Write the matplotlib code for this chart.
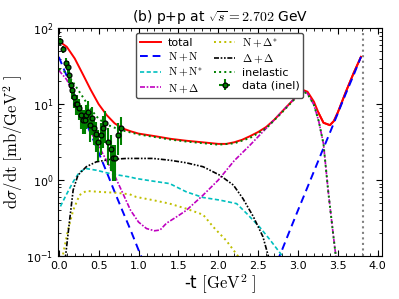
import numpy as np
import matplotlib
matplotlib.use('Agg')
import matplotlib.pyplot as plt

# curves, t in GeV^2, dsigma/dt in mb/GeV^2
t_total = [0.0, 0.1, 0.2, 0.3, 0.4, 0.5, 0.6, 0.7, 0.8, 0.9, 1.0, 1.2, 1.4, 1.6, 1.8, 2.0, 2.1, 2.2,
           2.3, 2.4, 2.5, 2.6, 2.7, 2.8, 2.9, 3.0, 3.07, 3.12, 3.2, 3.26, 3.32, 3.4, 3.45, 3.5, 3.6, 3.7, 3.79]
total = [68, 57, 40, 25, 15.5, 10, 7.2, 5.6, 4.8, 4.4, 4.1, 3.8, 3.5, 3.3, 3.15, 3.0, 3.0, 3.15,
         3.4, 3.8, 4.3, 5.0, 6.2, 8.0, 10.3, 13.3, 15.3, 14.6, 10.8, 7.6, 5.7, 5.3, 6.0, 7.8, 14.5, 26, 42]

t_nn1 = [0.0, 0.1, 0.2, 0.3, 0.4, 0.5, 0.6, 0.7, 0.8, 0.9, 1.0, 1.06]
nn1 = [42, 23.5, 13.0, 7.2, 4.1, 2.3, 1.28, 0.70, 0.39, 0.22, 0.12, 0.085]
t_nn2 = [2.74, 2.8, 2.9, 3.0, 3.1, 3.2, 3.3, 3.4, 3.5, 3.6, 3.7, 3.79]
nn2 = [0.085, 0.12, 0.22, 0.40, 0.72, 1.30, 2.35, 4.2, 7.6, 13.8, 24.5, 42]

t_nns = [0.02, 0.09, 0.18, 0.26, 0.34, 0.47, 0.64, 0.76, 0.89, 0.97, 1.18, 1.39, 1.6, 1.81,
         2.02, 2.23, 2.36, 2.52, 2.65, 2.76, 2.84]
nns = [0.45, 0.63, 0.95, 1.28, 1.42, 1.35, 1.22, 1.16, 1.1, 1.05, 0.97, 0.90, 0.70, 0.59,
       0.545, 0.49, 0.36, 0.24, 0.163, 0.115, 0.09]

t_nd = [0.0, 0.1, 0.2, 0.3, 0.4, 0.5, 0.6, 0.7, 0.8, 0.9, 1.0, 1.1, 1.2, 1.27, 1.35, 1.5, 1.6,
        1.8, 2.0, 2.2, 2.4, 2.6, 2.8, 2.9, 3.0, 3.07, 3.12, 3.2, 3.26, 3.32, 3.38, 3.44, 3.48]
nd = [28, 21, 12.5, 7.0, 4.3, 2.8, 1.8, 1.15, 0.68, 0.40, 0.28, 0.23, 0.215, 0.22, 0.27, 0.34, 0.40,
      0.62, 1.0, 1.8, 2.9, 4.8, 8.0, 10.3, 13.3, 14.8, 13.8, 9.8, 6.0, 3.0, 0.7, 0.2, 0.09]

t_nds = [0.04, 0.115, 0.18, 0.26, 0.345, 0.51, 0.72, 0.89, 0.97, 1.18, 1.39, 1.6, 1.81, 1.94, 2.1, 2.28]
nds = [0.09, 0.22, 0.40, 0.635, 0.72, 0.70, 0.68, 0.65, 0.60, 0.545, 0.49, 0.42, 0.35, 0.24, 0.16, 0.09]

t_dd = [0.08, 0.136, 0.18, 0.24, 0.345, 0.47, 0.64, 0.85, 1.18, 1.39, 1.6, 1.81, 2.02, 2.19, 2.31,
        2.44, 2.56, 2.64]
dd = [0.09, 0.30, 0.74, 1.16, 1.5, 1.74, 1.87, 1.93, 1.93, 1.83, 1.69, 1.5, 1.16, 0.86, 0.57,
      0.33, 0.18, 0.09]

t_inel = [0.0, 0.1, 0.2, 0.3, 0.4, 0.5, 0.6, 0.7, 0.8, 0.9, 1.0, 1.2, 1.4, 1.6, 1.8, 2.0, 2.2,
          2.4, 2.6, 2.8, 2.9, 3.0, 3.07, 3.12, 3.2, 3.26, 3.32, 3.38, 3.44, 3.48]
inel = [29, 26, 18, 12.5, 8.6, 6.4, 5.4, 4.9, 4.5, 4.25, 4.0, 3.7, 3.42, 3.22, 3.07, 2.93, 3.05,
        3.6, 4.8, 7.8, 10.1, 13.0, 14.6, 13.7, 9.8, 6.0, 3.0, 0.7, 0.2, 0.09]

# data (inel)
t_data = [0.02, 0.05, 0.085, 0.11, 0.13, 0.15, 0.17, 0.19, 0.21, 0.23, 0.25, 0.275, 0.30, 0.325,
          0.345, 0.37, 0.395, 0.42, 0.445, 0.47, 0.49, 0.525, 0.555, 0.585, 0.615, 0.65, 0.68,
          0.71, 0.74, 0.775]
y_data = [68, 53, 35, 31, 24, 17.8, 15.6, 12.5, 10.2, 10.2, 9.0, 7.3, 6.2, 6.2, 7.2, 7.9, 5.3,
          6.5, 4.8, 4.1, 3.2, 3.9, 4.8, 5.6, 3.2, 2.6, 1.93, 1.93, 3.9, 4.8]
err_frac = [0.1, 0.12, 0.15, 0.18, 0.2, 0.22, 0.25, 0.28, 0.3, 0.3, 0.32, 0.35, 0.35, 0.35, 0.35,
            0.38, 0.4, 0.4, 0.4, 0.42, 0.45, 0.45, 0.45, 0.45, 0.5, 0.5, 0.5, 0.5, 0.45, 0.4]

t_max = 3.82

plt.rcParams['font.family'] = 'DejaVu Sans'
plt.rcParams['font.size'] = 8

fig = plt.figure(figsize=(3.99, 2.99), dpi=100)
ax = fig.add_axes([0.1454, 0.1438, 0.8112, 0.7615])

ax.plot(t_total, total, 'r-', lw=1.4, label='total')
ax.plot(t_nn1, nn1, 'b--', lw=1.4, dashes=(4, 2.5), label=r'$\rm N+N$')
ax.plot(t_nn2, nn2, 'b--', lw=1.4, dashes=(4, 2.5))
ax.plot(t_nns, nns, 'c--', lw=1.2, dashes=(2.5, 1.5), label=r'$\rm N+N^{*}$')
ax.plot(t_nd, nd, 'm-.', lw=1.2, dashes=(3, 1, 1, 1), label=r'$\rm N+\Delta$')
ax.plot(t_nds, nds, 'y:', lw=1.4, label=r'$\rm N+\Delta^{*}$')
ax.plot(t_dd, dd, 'k-.', lw=1.2, dashes=(3, 1, 1, 1, 1, 1), label=r'$\Delta+\Delta$')
ax.plot(t_inel, inel, 'g:', lw=1.4, label='inelastic')
# red total drawn over N+N at large t
ax.plot(t_total[-8:], total[-8:], 'r-', lw=1.4, zorder=1)

yerr = np.array(y_data) * np.array(err_frac)
ax.errorbar(t_data, y_data, yerr=yerr, xerr=0.01, fmt='o', color='g', ecolor='g',
            mfc='g', mec='k', ms=3.5, mew=0.9, elinewidth=1.5, capsize=0, label='data (inel)')

ax.axvline(t_max, color='gray', ls=':', lw=1.5)

ax.set_yscale('log')
ax.set_xlim(-0.01, 4.05)
ax.set_ylim(0.1, 100)
ax.set_xticks(np.arange(0, 4.01, 0.5))
ax.set_xticks(np.arange(0, 4.05, 0.1), minor=True)
ax.tick_params(which='both', direction='in', top=True, right=True, labelsize=8)
ax.tick_params(which='major', length=4)
ax.tick_params(which='minor', length=2)

ax.set_title(r'(b) p+p at $\sqrt{s}=2.702$ GeV', fontsize=10, math_fontfamily='cm', pad=5)
ax.set_xlabel(r'-t $[\mathrm{GeV}^2\ ]$', fontsize=12, math_fontfamily='cm', labelpad=1)
ax.set_ylabel(r'$\mathrm{d}\sigma/\mathrm{dt}\ [\mathrm{mb/GeV}^2\ ]$', fontsize=12,
              math_fontfamily='cm', labelpad=1)

leg = ax.legend(loc='upper center', ncol=2, fontsize=8, labelspacing=0.25, handlelength=1.9,
                handletextpad=0.6, columnspacing=1.0, borderaxespad=0.4, borderpad=0.35,
                framealpha=1, edgecolor='0.3', fancybox=True)
for txt in leg.get_texts():
    txt.set_math_fontfamily('cm')

fig.savefig('out.png', dpi=100)
